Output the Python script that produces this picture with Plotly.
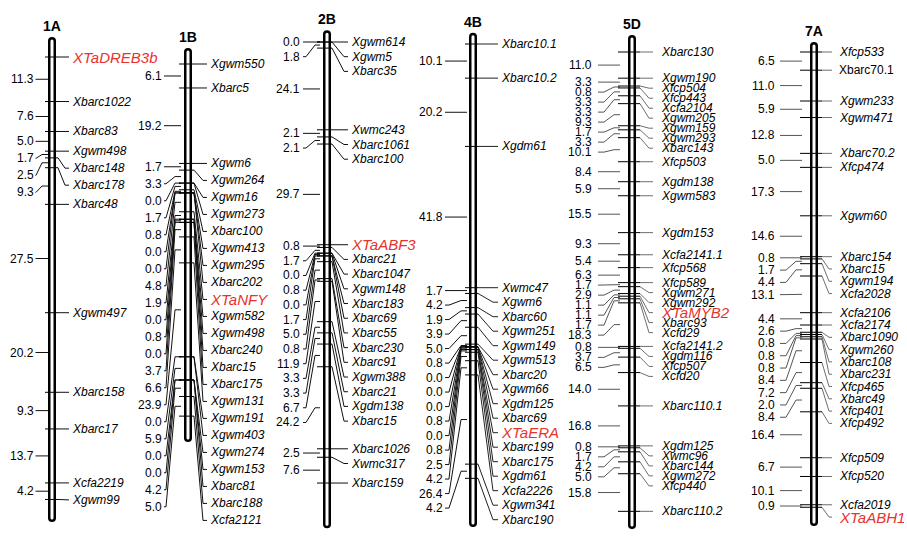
import plotly.graph_objects as go

# ---------------- data ----------------
chromosomes = ["1A", "1B", "2B", "4B", "5D", "7A"]

markers_1A = ["XTaDREB3b", "Xbarc1022", "Xbarc83", "Xgwm498", "Xbarc148", "Xbarc178", "Xbarc48",
              "Xgwm497", "Xbarc158", "Xbarc17", "Xcfa2219", "Xgwm99"]
dist_1A = [11.3, 7.6, 5.0, 1.7, 2.5, 9.3, 27.5, 20.2, 9.3, 13.7, 4.2]

markers_1B = ["Xgwm550", "Xbarc5", "Xgwm6", "Xgwm264", "Xgwm16", "Xgwm273", "Xbarc100", "Xgwm413",
              "Xgwm295", "Xbarc202", "XTaNFY", "Xgwm582", "Xgwm498", "Xbarc240", "Xbarc15", "Xbarc175",
              "Xgwm131", "Xgwm191", "Xgwm403", "Xgwm274", "Xgwm153", "Xbarc81", "Xbarc188", "Xcfa2121"]
dist_1B = [6.1, 19.2, 1.7, 3.3, 0.0, 1.7, 0.8, 0.0, 0.0, 4.8, 1.9, 0.0, 0.8, 0.0, 3.7, 6.6, 23.9,
           0.0, 5.9, 0.0, 0.0, 4.2, 5.0]

markers_2B = ["Xgwm614", "Xgwm5", "Xbarc35", "Xwmc243", "Xbarc1061", "Xbarc100", "XTaABF3", "Xbarc21",
              "Xbarc1047", "Xgwm148", "Xbarc183", "Xbarc69", "Xbarc55", "Xbarc230", "Xbarc91", "Xgwm388",
              "Xbarc21", "Xgdm138", "Xbarc15", "Xbarc1026", "Xwmc317", "Xbarc159"]
dist_2B = [0.0, 1.8, 24.1, 2.1, 2.1, 29.7, 0.8, 1.7, 0.0, 0.8, 0.0, 1.7, 5.0, 0.8, 11.9, 3.3, 3.3,
           6.7, 24.2, 2.5, 7.6]

markers_4B = ["Xbarc10.1", "Xbarc10.2", "Xgdm61", "Xwmc47", "Xgwm6", "Xbarc60", "Xgwm251", "Xgwm149",
              "Xgwm513", "Xbarc20", "Xgwm66", "Xgdm125", "Xbarc69", "XTaERA", "Xbarc199", "Xbarc175",
              "Xgdm61", "Xcfa2226", "Xgwm341", "Xbarc190"]
dist_4B = [10.1, 20.2, 41.8, 1.7, 4.2, 1.9, 3.9, 5.0, 0.8, 0.0, 0.0, 0.0, 0.8, 0.0, 0.8, 2.5, 4.2,
           26.4, 4.2]

markers_5D = ["Xbarc130", "Xgwm190", "Xfcp504", "Xfcp443", "Xcfa2104", "Xgwm205", "Xgwm159", "Xgwm293",
              "Xbarc143", "Xfcp503", "Xgdm138", "Xgwm583", "Xgdm153", "Xcfa2141.1", "Xfcp568", "Xfcp589",
              "Xgwm271", "Xgwm292", "XTaMYB2", "Xbarc93", "Xcfd29", "Xcfa2141.2", "Xgdm116", "Xfcp507",
              "Xcfd20", "Xbarc110.1", "Xgdm125", "Xwmc96", "Xbarc144", "Xgwm272", "Xfcp440", "Xbarc110.2"]
dist_5D = [11.0, 3.3, 0.8, 3.3, 3.3, 9.3, 1.7, 3.3, 10.1, 8.4, 5.9, 15.5, 9.3, 5.4, 6.3, 1.7, 2.9,
           1.1, 1.1, 1.7, 18.3, 0.8, 3.7, 6.5, 14.0, 16.8, 0.8, 1.7, 4.2, 5.0, 15.8]

markers_7A = ["Xfcp533", "Xbarc70.1", "Xgwm233", "Xgwm471", "Xbarc70.2", "Xfcp474", "Xgwm60", "Xbarc154",
              "Xbarc15", "Xgwm194", "Xcfa2028", "Xcfa2106", "Xcfa2174", "Xbarc1090", "Xgwm260", "Xbarc108",
              "Xbarc231", "Xfcp465", "Xbarc49", "Xfcp401", "Xfcp492", "Xfcp509", "Xfcp520", "Xcfa2019",
              "XTaABH1"]
dist_7A = [6.5, 11.0, 5.9, 12.8, 5.0, 17.3, 14.6, 0.8, 1.7, 4.4, 13.1, 4.4, 2.6, 0.8, 0.8, 0.8, 8.4,
           7.2, 2.0, 8.4, 16.4, 6.7, 10.1, 0.9]

markers = {"1A": markers_1A, "1B": markers_1B, "2B": markers_2B,
           "4B": markers_4B, "5D": markers_5D, "7A": markers_7A}
dists = {"1A": dist_1A, "1B": dist_1B, "2B": dist_2B,
         "4B": dist_4B, "5D": dist_5D, "7A": dist_7A}

highlight = {"XTaDREB3b", "XTaNFY", "XTaABF3", "XTaERA", "XTaMYB2", "XTaABH1"}
upright = {("7A", "Xbarc70.1")}

# ---------------- layout / style ----------------
W, H = 907, 537
FONT = "Liberation Sans, Arial, sans-serif"
RED = "#e8322c"

# cx: rod centre (px); y0/k: pixel offset and px per cM of the chromosome's own axis
style = {
    "1A": dict(cx=52, y0=57, k=3.94, pad=(5.1, 5.7), gap=17.0, tick=(7, 6), rc=(6, 13, 17), rt=19,
               lc=(4, 10, 16, 16.5), lt=17.5, ccol="#111", lcol="#111"),
    "1B": dict(cx=188, y0=64, k=3.93, pad=(4.1, 6.6), gap=17.0, tick=(9, 6), rc=(6, 15, 19), rt=21,
               lc=(7, 13, 22, 24), lt=25, ccol="#111", lcol="#111"),
    "2B": dict(cx=327, y0=42, k=3.39, pad=(3.5, 13.3), gap=14.7, tick=(10, 5), rc=(5, 17, 21), rt=23,
               lc=(7, 12, 21, 24), lt=26, ccol="#111", lcol="#111"),
    "4B": dict(cx=473, y0=44, k=3.38, pad=(3.3, 14.4), gap=14.5, tick=(8, 5), rc=(5, 20, 25), rt=27,
               lc=(6, 12, 24, 28), lt=29, ccol="#222", lcol="#111"),
    "5D": dict(cx=632, y0=52, k=2.38, pad=(7.1, 7.4), gap=10.0, tick=(14, 8), rc=(8, 17, 21), rt=28,
               lc=(12, 18, 28, 34), lt=39, ccol="#6e6e6e", lcol="#555"),
    "7A": dict(cx=814, y0=52, k=2.80, pad=(3.6, 6.7), gap=12.3, tick=(14, 8), rc=(8, 15, 18), rt=24,
               lc=(12, 18, 28, 34), lt=38, ccol="#6e6e6e", lcol="#555"),
}


def spread(natural, gap):
    """Top-down label de-overlap: keep order, enforce a minimum gap."""
    out = []
    for v in natural:
        if out and v < out[-1] + gap:
            v = out[-1] + gap
        out.append(v)
    return out


def rod_path(cx, top, bot, half, inset, k):
    r = half / k
    t = top + inset / k
    b = bot - inset / k
    xl, xr = cx - half, cx + half
    return (f"M {xl},{t + r} L {xl},{b - r} Q {xl},{b} {cx},{b} Q {xr},{b} {xr},{b - r} "
            f"L {xr},{t + r} Q {xr},{t} {cx},{t} Q {xl},{t} {xl},{t + r} Z")


fig = go.Figure()
annotations = []
shapes = []
layout_axes = {}

for i, ch in enumerate(chromosomes):
    s = style[ch]
    yref = "y" if i == 0 else f"y{i + 1}"
    axname = "yaxis" if i == 0 else f"yaxis{i + 1}"
    k, y0, cx = s["k"], s["y0"], s["cx"]
    ax = dict(range=[(H - y0) / k, -y0 / k], visible=False, fixedrange=True, domain=[0, 1])
    if i > 0:
        ax.update(overlaying="y", anchor="x")
    layout_axes[axname] = ax

    names = markers[ch]
    d = dists[ch]
    pos = [0.0]
    for v in d:
        pos.append(round(pos[-1] + v, 3))

    top = -s["pad"][0]
    bot = pos[-1] + s["pad"][1]
    shapes.append(dict(type="path", xref="x", yref=yref, layer="below",
                       path=rod_path(cx, top, bot, 4.0, 0.0, k),
                       fillcolor="#000", line=dict(width=0)))
    shapes.append(dict(type="path", xref="x", yref=yref, layer="below",
                       path=rod_path(cx, top, bot, 1.5, 2.5, k),
                       fillcolor="#fff", line=dict(width=0)))

    # title
    annotations.append(dict(x=cx, y=top, xref="x", yref=yref, text=f"<b>{ch}</b>", showarrow=False,
                            xanchor="center", yanchor="bottom", yshift=1,
                            font=dict(family=FONT, size=14, color="#000")))

    gap = s["gap"] / k
    # right labels: marker names
    lab_r = spread(pos, gap)
    tx, ty = [], []
    cxs, cys = [], []
    tl, tr = s["tick"]
    r0, r1, r2 = s["rc"]
    for p, L, nm in zip(pos, lab_r, names):
        tx += [cx - tl, cx + tr, None]
        ty += [p, p, None]
        cxs += [cx + r0, cx + r1, cx + r2, None]
        cys += [p, L, L, None]
        hl = nm in highlight
        txt = nm if (ch, nm) in upright else f"<i>{nm}</i>"
        annotations.append(dict(x=cx + s["rt"], y=L, xref="x", yref=yref, text=txt, showarrow=False,
                                xanchor="left", yanchor="middle", borderpad=0,
                                font=dict(family=FONT, size=15 if hl else 12,
                                          color=RED if hl else "#000")))

    # left labels: interval distances
    mids = [(pos[j] + pos[j + 1]) / 2 for j in range(len(d))]
    lab_l = spread(mids, gap)
    lxs, lys = [], []
    l0, l1, l2, l3 = s["lc"]
    for m, L, v in zip(mids, lab_l, d):
        lxs += [cx - l0, cx - l1, cx - l2, cx - l3, None]
        lys += [m, m, L, L, None]
        annotations.append(dict(x=cx - s["lt"], y=L, xref="x", yref=yref, text=f"{v:.1f}",
                                showarrow=False, xanchor="right", yanchor="middle", borderpad=0,
                                font=dict(family=FONT, size=12, color="#000")))

    fig.add_trace(go.Scatter(x=lxs, y=lys, mode="lines", xaxis="x", yaxis=yref,
                             line=dict(color=s["lcol"], width=1), hoverinfo="skip"))
    fig.add_trace(go.Scatter(x=cxs, y=cys, mode="lines", xaxis="x", yaxis=yref,
                             line=dict(color=s["ccol"], width=1), hoverinfo="skip"))
    fig.add_trace(go.Scatter(x=tx, y=ty, mode="lines", xaxis="x", yaxis=yref,
                             line=dict(color="#000", width=1), hoverinfo="skip"))

fig.update_layout(
    width=W, height=H, autosize=False,
    margin=dict(l=0, r=0, t=0, b=0, pad=0),
    paper_bgcolor="#fff", plot_bgcolor="#fff",
    showlegend=False,
    xaxis=dict(range=[0, W], visible=False, fixedrange=True, domain=[0, 1]),
    annotations=annotations, shapes=shapes,
    **layout_axes,
)

fig.write_html("out.html", include_plotlyjs=True, full_html=True,
               config={"displayModeBar": False, "staticPlot": True},
               post_script="document.body.style.margin='0px';document.body.style.overflow='hidden';")
